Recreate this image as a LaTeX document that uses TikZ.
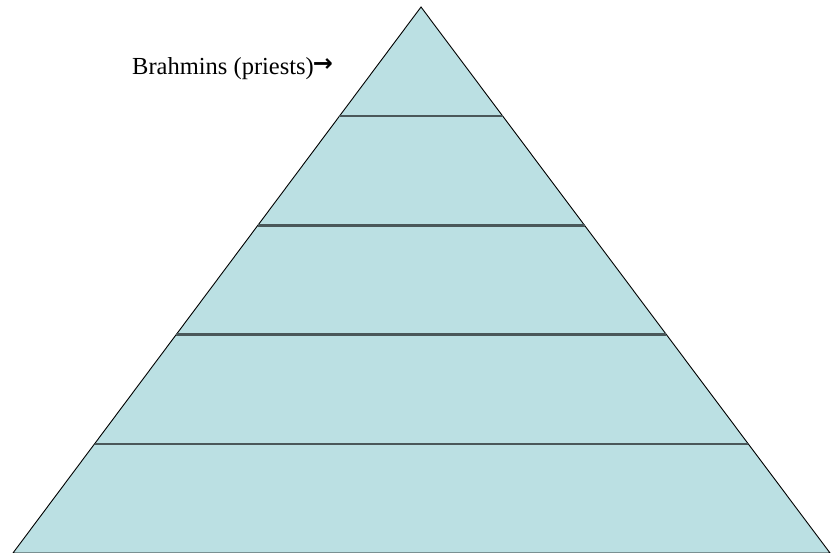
\documentclass[tikz,border=0pt]{standalone}
\usepackage{fontspec}
\setmainfont{Liberation Serif}
\newfontfamily\symfont{DejaVu Sans}
\usetikzlibrary{calc}
\definecolor{tierfill}{RGB}{187, 224, 227}
\definecolor{tierline}{RGB}{74, 88, 90}

\begin{document}
\begin{tikzpicture}[
    x=1pt, y=1pt,
    pyramid/.style={draw=black, fill=tierfill, line width=0.9pt, line join=miter},
    divider/.style={draw=tierline, line width=2.6pt},
    caption/.style={anchor=base west, inner sep=0pt, font=\fontsize{24.5}{28}\selectfont}
]
\useasboundingbox (0,0) rectangle (840,552);

% Corners of the pyramid
\coordinate (apex) at (421,545);
\coordinate (bl) at (13,-1);
\coordinate (br) at (830,-1);

\path[pyramid] (apex) -- (br) -- (bl) -- cycle;

% Tier dividers
\foreach \t/\n in {0.2/a, 0.4/b, 0.6/c, 0.8/d} {
    \coordinate (l\n) at ($(apex)!\t!(bl)$);
    \coordinate (r\n) at ($(apex)!\t!(br)$);
    \draw[divider] (l\n) -- (r\n);
}

% Label
\node[caption] (brahmins) at (132,477) {Brahmins (priests)\kern-1pt\raisebox{3pt}{\symfont\bfseries\fontsize{24}{26}\selectfont →}};

\end{tikzpicture}
\end{document}
